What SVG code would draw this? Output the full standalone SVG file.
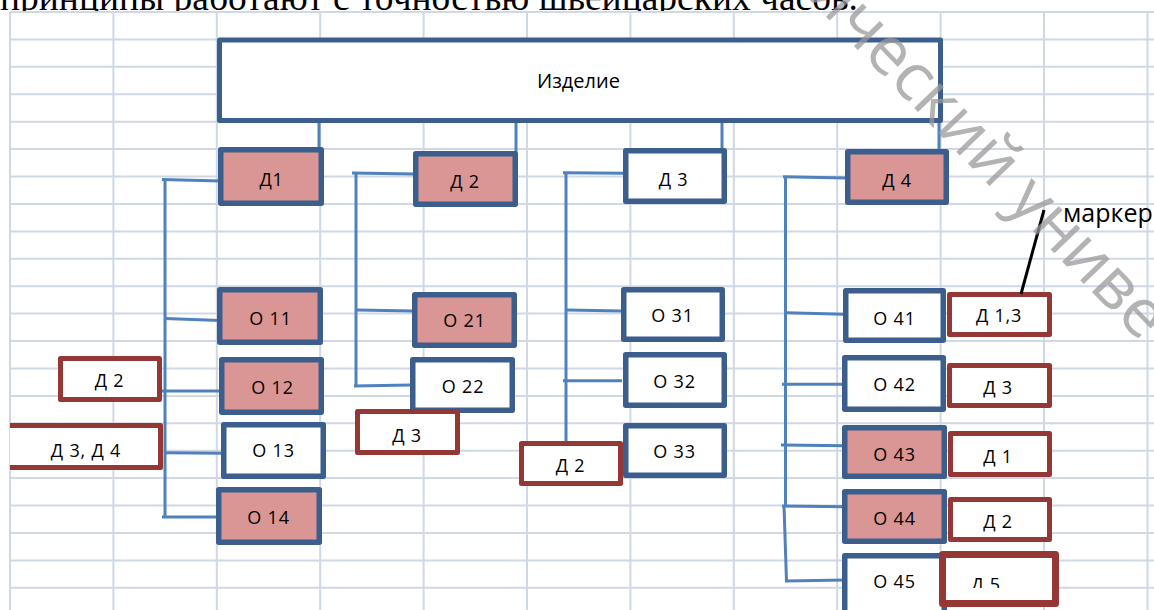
<svg xmlns="http://www.w3.org/2000/svg" width="1154" height="610" viewBox="0 0 1154 610">
<style>
.grid line{stroke:#d0d7e5;stroke-width:2}
.bx{stroke:#3b5e8c;stroke-width:5.5;stroke-linejoin:round}
.pk{fill:#d99694}
.wh{fill:#ffffff}
.rd{fill:#ffffff;stroke:#953735;stroke-width:5;stroke-linejoin:round}
.lbl{font-family:"Open Sans","Noto Sans",sans-serif;font-size:18px;letter-spacing:0.8px;fill:#000;text-anchor:middle}
.conn line,.conn polyline{stroke:#4f81bd;stroke-width:3;fill:none}
</style>
<defs>
<clipPath id="clipD5"><rect x="940" y="560" width="120" height="28"/></clipPath>
</defs>
<rect x="0" y="0" width="1154" height="610" fill="#ffffff"/>
<text x="0" y="9.5" font-family="Liberation Serif,serif" font-size="37" textLength="858" lengthAdjust="spacingAndGlyphs" fill="#000">принципы работают с точностью швейцарских часов.</text>
<rect x="0" y="12" width="1154" height="598" fill="#ffffff"/>
<g class="grid">
<line x1="10" y1="12" x2="1154" y2="12"/><line x1="10" y1="39.4" x2="1154" y2="39.4"/><line x1="10" y1="66.8" x2="1154" y2="66.8"/><line x1="10" y1="94.3" x2="1154" y2="94.3"/><line x1="10" y1="121.7" x2="1154" y2="121.7"/><line x1="10" y1="149.1" x2="1154" y2="149.1"/><line x1="10" y1="176.5" x2="1154" y2="176.5"/><line x1="10" y1="203.9" x2="1154" y2="203.9"/><line x1="10" y1="231.4" x2="1154" y2="231.4"/><line x1="10" y1="258.8" x2="1154" y2="258.8"/><line x1="10" y1="286.2" x2="1154" y2="286.2"/><line x1="10" y1="313.6" x2="1154" y2="313.6"/><line x1="10" y1="341" x2="1154" y2="341"/><line x1="10" y1="368.5" x2="1154" y2="368.5"/><line x1="10" y1="395.9" x2="1154" y2="395.9"/><line x1="10" y1="423.3" x2="1154" y2="423.3"/><line x1="10" y1="450.7" x2="1154" y2="450.7"/><line x1="10" y1="478.1" x2="1154" y2="478.1"/><line x1="10" y1="505.6" x2="1154" y2="505.6"/><line x1="10" y1="533" x2="1154" y2="533"/><line x1="10" y1="560.4" x2="1154" y2="560.4"/><line x1="10" y1="587.8" x2="1154" y2="587.8"/>
<line x1="10" y1="12" x2="10" y2="610"/><line x1="113.4" y1="12" x2="113.4" y2="610"/><line x1="216.8" y1="12" x2="216.8" y2="610"/><line x1="320.2" y1="12" x2="320.2" y2="610"/><line x1="423.6" y1="12" x2="423.6" y2="610"/><line x1="527" y1="12" x2="527" y2="610"/><line x1="630.4" y1="12" x2="630.4" y2="610"/><line x1="733.8" y1="12" x2="733.8" y2="610"/><line x1="837.2" y1="12" x2="837.2" y2="610"/><line x1="940.6" y1="12" x2="940.6" y2="610"/><line x1="1044" y1="12" x2="1044" y2="610"/><line x1="1147.5" y1="12" x2="1147.5" y2="610"/>
</g>
<g id="connectors" class="conn">
<line x1="319" y1="122" x2="319" y2="149"/>
<line x1="516" y1="122" x2="516" y2="152"/>
<line x1="722" y1="122" x2="722" y2="149"/>
<line x1="939" y1="122" x2="939" y2="150"/>
<line x1="165" y1="179" x2="165" y2="518"/>
<line x1="162" y1="179.5" x2="221" y2="181"/>
<line x1="165" y1="318.5" x2="220" y2="320.5"/>
<line x1="162" y1="391" x2="221" y2="391"/>
<line x1="165" y1="452.7" x2="224" y2="453.3"/>
<line x1="162" y1="517" x2="219" y2="517"/>
<line x1="356" y1="173" x2="356" y2="387"/>
<line x1="352" y1="173" x2="414" y2="174"/>
<line x1="357" y1="310" x2="413" y2="311"/>
<line x1="354" y1="386" x2="411" y2="385"/>
<line x1="566" y1="172.7" x2="566" y2="443"/>
<line x1="563" y1="172.7" x2="624" y2="173.3"/>
<line x1="567" y1="310" x2="622" y2="311"/>
<line x1="563" y1="380.7" x2="622" y2="380.7"/>
<line x1="785.5" y1="176.7" x2="785.5" y2="506"/>
<line x1="783" y1="176.7" x2="846" y2="178"/>
<line x1="786.5" y1="312.7" x2="844" y2="314.3"/>
<line x1="782" y1="384.3" x2="845" y2="384.3"/>
<line x1="781" y1="445" x2="846" y2="445.7"/>
<line x1="782" y1="506" x2="846" y2="506.7"/>
<polyline points="784,506 786.5,581 845,580"/>
</g>
<g id="izdelie"><rect class="bx wh" x="219.5" y="40" width="721" height="80.5" style="stroke-width:5"/><text class="lbl" x="578.5" y="88" style="font-size:20px;letter-spacing:0">Изделие</text></g>
<g id="d1"><rect class="bx pk" x="220.75" y="149.75" width="100.5" height="53.5"/><text class="lbl" x="271.5" y="185.5">Д1</text></g>
<g id="o11"><rect class="bx pk" x="219.75" y="289.75" width="100.5" height="52.5"/><text class="lbl" x="270.5" y="325">О 11</text></g>
<g id="o12"><rect class="bx pk" x="221.75" y="359.75" width="99.5" height="52.5"/><text class="lbl" x="272.5" y="393.5">О 12</text></g>
<g id="o13"><rect class="bx wh" x="223.75" y="424.75" width="99.5" height="51.5"/><text class="lbl" x="273.5" y="457">О 13</text></g>
<g id="o14"><rect class="bx pk" x="218.75" y="489.75" width="100.5" height="52.5"/><text class="lbl" x="268.5" y="523.5">О 14</text></g>
<g id="d2"><rect class="bx pk" x="415.75" y="153.75" width="99.5" height="50.5"/><text class="lbl" x="465" y="187.5">Д 2</text></g>
<g id="o21"><rect class="bx pk" x="414.75" y="294.75" width="99.5" height="50.5"/><text class="lbl" x="464.5" y="326.5">О 21</text></g>
<g id="o22"><rect class="bx wh" x="412.75" y="359.75" width="99.5" height="50.5"/><text class="lbl" x="463" y="392.5">О 22</text></g>
<g id="d3"><rect class="bx wh" x="625.75" y="150.75" width="98.5" height="50.5"/><text class="lbl" x="673.5" y="185.5">Д 3</text></g>
<g id="o31"><rect class="bx wh" x="623.75" y="289.75" width="98.5" height="49.5"/><text class="lbl" x="672.5" y="321.5">О 31</text></g>
<g id="o32"><rect class="bx wh" x="625.75" y="354.75" width="98.5" height="50.5"/><text class="lbl" x="674.5" y="387.5">О 32</text></g>
<g id="o33"><rect class="bx wh" x="625.75" y="425.75" width="98.5" height="49.5"/><text class="lbl" x="674.5" y="458">О 33</text></g>
<g id="d4"><rect class="bx pk" x="847.75" y="151.75" width="98.5" height="50.5"/><text class="lbl" x="897" y="186.5">Д 4</text></g>
<g id="o41"><rect class="bx wh" x="845.75" y="290.75" width="97.5" height="49.5"/><text class="lbl" x="894.5" y="324.5">О 41</text></g>
<g id="o42"><rect class="bx wh" x="844.75" y="357.75" width="98.5" height="51.5"/><text class="lbl" x="894.5" y="391">О 42</text></g>
<g id="o43"><rect class="bx pk" x="844.75" y="427.75" width="99.5" height="48.5"/><text class="lbl" x="894.5" y="461">О 43</text></g>
<g id="o44"><rect class="bx pk" x="844.75" y="491.75" width="99.5" height="49.5"/><text class="lbl" x="894.5" y="524.5">О 44</text></g>
<g id="o45"><rect class="bx wh" x="844.75" y="555.75" width="99.5" height="60"/><text class="lbl" x="894.5" y="587.5">О 45</text></g>
<g id="m-d2-left"><rect class="rd" x="60.5" y="358.5" width="99" height="41"/><text class="lbl" x="109.5" y="387">Д 2</text></g>
<g id="m-d3d4"><rect x="10" y="425.5" width="150.5" height="42" fill="#ffffff"/><path d="M10 425.5H160.5V467.5H10" fill="none" stroke="#953735" stroke-width="5" stroke-linejoin="round"/><text class="lbl" x="86" y="456.5">Д 3, Д 4</text></g>
<g id="m-d3-c2"><rect class="rd" x="357.5" y="411.5" width="100" height="41"/><text class="lbl" x="407" y="441.5">Д 3</text></g>
<g id="m-d2-c3"><rect class="rd" x="521.5" y="443.5" width="99" height="40"/><text class="lbl" x="570.5" y="471.5">Д 2</text></g>
<g id="m-d13"><rect class="rd" x="949.5" y="294.5" width="100" height="40"/><text class="lbl" x="999" y="321.5">Д 1,3</text></g>
<g id="m-d3-c4"><rect class="rd" x="949.5" y="365.5" width="100" height="40"/><text class="lbl" x="998" y="393.5">Д 3</text></g>
<g id="m-d1"><rect class="rd" x="950.5" y="433.5" width="99" height="41"/><text class="lbl" x="998" y="462.5">Д 1</text></g>
<g id="m-d2"><rect class="rd" x="950.5" y="499.5" width="99" height="40"/><text class="lbl" x="998" y="527.5">Д 2</text></g>
<g id="m-d5"><rect class="rd" x="942.5" y="554.5" width="113" height="49" style="stroke-width:7"/><text class="lbl" x="986" y="591" clip-path="url(#clipD5)">Д 5</text></g>
<g id="marker"><line x1="1044" y1="210" x2="1021" y2="294" stroke="#000" stroke-width="3"/><text x="1063" y="222" font-family="Open Sans,Noto Sans,sans-serif" font-size="25" fill="#000">маркер</text></g>
<text x="804" y="-6" transform="rotate(46 804 -6)" font-family="Open Sans,Noto Sans,sans-serif" font-size="67" fill="#9a9a9a" fill-opacity="0.75">ический униве</text>
</svg>
